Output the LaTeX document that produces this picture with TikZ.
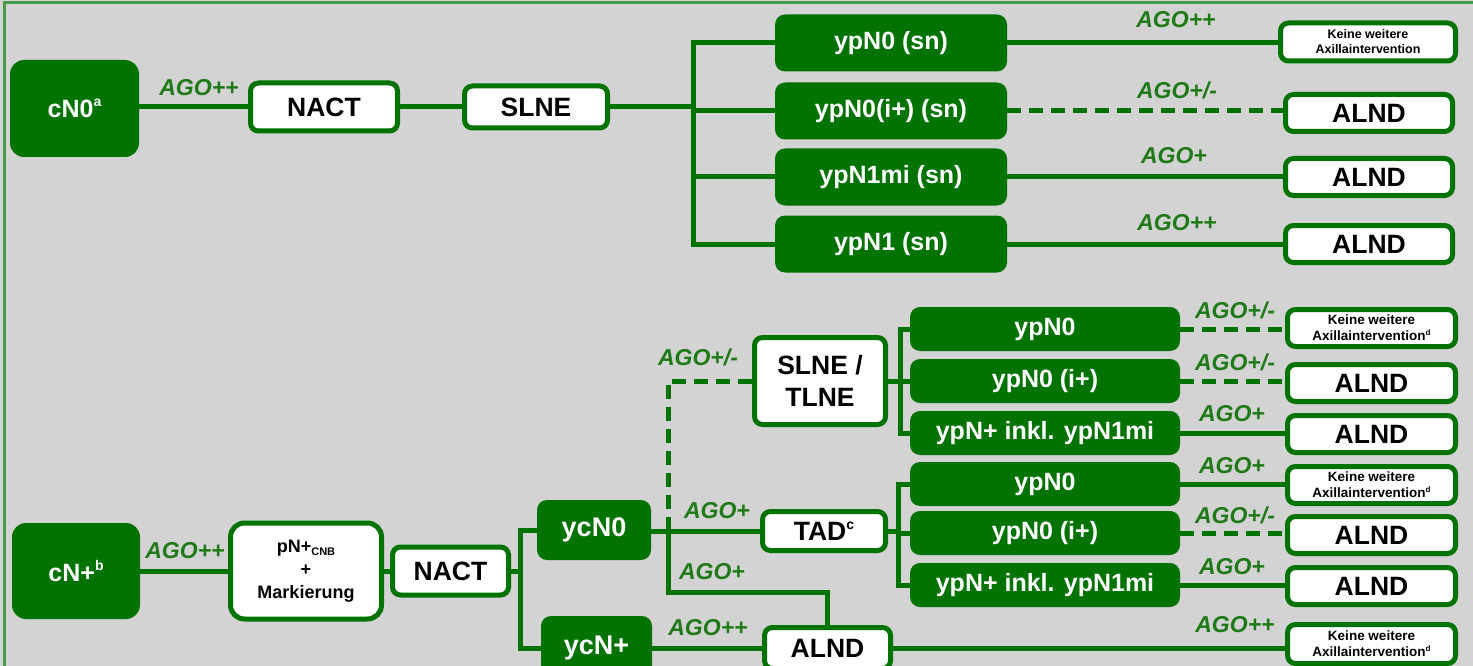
\documentclass[tikz,border=0pt]{standalone}
\usepackage{fontspec}
\setmainfont{Liberation Sans}
\definecolor{dkg}{RGB}{0,115,0}
\definecolor{lbg}{RGB}{30,122,22}
\definecolor{frameg}{RGB}{70,155,70}
\definecolor{bgg}{RGB}{211,211,211}
\newcommand{\sps}[1]{\raisebox{0.8ex}{\fontsize{14}{14}\selectfont #1}}
\newcommand{\sbs}[1]{\raisebox{-0.35ex}{\fontsize{11}{12}\selectfont #1}}
\newcommand{\spsm}[1]{\raisebox{0.7ex}{\fontsize{8}{8}\selectfont #1}}
\tikzset{
  gbox/.style={fill=dkg, rounded corners=10pt, text=white, inner sep=0pt,
    font=\fontsize{25}{29}\bfseries\selectfont},
  wbox/.style={fill=white, draw=dkg, line width=5pt, rounded corners=8pt, text=black,
    inner sep=0pt, font=\fontsize{26.5}{30}\bfseries\selectfont, align=center},
  endk/.style={wbox, minimum width=173pt, minimum height=37pt,
    font=\fontsize{13.5}{16}\bfseries\selectfont},
  enda/.style={wbox, minimum width=167pt, minimum height=37pt},
  conn/.style={draw=dkg, line width=5pt},
  dconn/.style={conn, dash pattern=on 14pt off 8pt},
  lab/.style={text=lbg, font=\fontsize{23}{26}\bfseries\itshape\selectfont, inner sep=0pt},
}
\begin{document}
\begin{tikzpicture}[x=1pt,y=-1pt]
\useasboundingbox (0,0) rectangle (1473,666);
\clip (0,0) rectangle (1473,666);
\fill[bgg] (0,0) rectangle (1473,666);
\draw[frameg, line width=3pt] (4,666) -- (4,3) -- (1473,3);

% ---------------- top part ----------------
\node[gbox, minimum width=129pt, minimum height=97pt, rounded corners=14pt] (cN0) at (74.5,108.5) {cN0\sps{a}};
\node[wbox, minimum width=147pt, minimum height=48pt] (nact1) at (324,107) {NACT};
\node[wbox, minimum width=143pt, minimum height=42pt] (slne1) at (536,107) {SLNE};
\coordinate (busA) at (693,107);

\node[gbox, minimum width=232pt, minimum height=57pt] (ypA) at (891,43) {ypN0 (sn)};
\node[gbox, minimum width=232pt, minimum height=57pt] (ypB) at (891,111) {ypN0(i+) (sn)};
\node[gbox, minimum width=232pt, minimum height=57pt] (ypC) at (891,177) {ypN1mi (sn)};
\node[gbox, minimum width=232pt, minimum height=57pt] (ypD) at (891,244) {ypN1 (sn)};

\node[endk, minimum width=175pt, minimum height=38pt, font=\fontsize{12.5}{15}\bfseries\selectfont] (eA) at (1368,42) {Keine weitere\\Axillaintervention};
\node[enda] (eB) at (1369,113) {ALND};
\node[enda] (eC) at (1369,177) {ALND};
\node[enda] (eD) at (1369,244) {ALND};

\draw[conn] (cN0.east |- nact1) -- (nact1.west);
\draw[conn] (nact1) -- (slne1);
\draw[conn] (slne1.east) -- (busA);
\draw[conn] (ypA.west) -| (busA) |- (ypD.west);
\draw[conn] (busA |- ypB) -- (ypB.west);
\draw[conn] (busA |- ypC) -- (ypC.west);
\draw[conn] (ypA.east) -- (ypA.east -| eA.west);
\draw[dconn] (ypB.east) -- (ypB.east -| eB.west);
\draw[conn] (ypC.east) -- (ypC.east -| eC.west);
\draw[conn] (ypD.east) -- (ypD.east -| eD.west);

\node[lab] (l1) at (199,88) {AGO++};
\node[lab] (l2) at (1176,20) {AGO++};
\node[lab] (l3) at (1177,90) {AGO+/-};
\node[lab] (l4) at (1174,156) {AGO+};
\node[lab] (l5) at (1177,223) {AGO++};

% ---------------- bottom part ----------------
\node[gbox, minimum width=128pt, minimum height=96pt, rounded corners=14pt] (cNp) at (76,571) {cN+\sps{b}};
\node[wbox, minimum width=151pt, minimum height=96pt, rounded corners=14pt,
  font=\fontsize{18}{23}\bfseries\selectfont] (pn) at (306,571) {pN+\sbs{CNB}\\+\\Markierung};
\node[wbox, minimum width=116pt, minimum height=48pt] (nact2) at (450.5,571) {NACT};
\coordinate (busB) at (520,571);
\node[gbox, minimum width=114pt, minimum height=60pt, font=\fontsize{27}{30}\bfseries\selectfont] (ycN0) at (594,530) {ycN0};
\node[gbox, minimum width=111pt, minimum height=64pt, font=\fontsize{27}{30}\bfseries\selectfont] (ycNp) at (596.5,648) {ycN+};

\node[wbox, minimum width=131pt, minimum height=87pt, font=\fontsize{26.5}{32}\bfseries\selectfont] (slt) at (820,381) {SLNE /\\TLNE};
\node[wbox, minimum width=123pt, minimum height=39pt] (tad) at (824,531) {TAD\sps{c}};
\node[wbox, minimum width=126pt, minimum height=41pt] (alnd3) at (827.5,648) {ALND};

\coordinate (j1) at (668,531);
\coordinate (busC) at (900,381);
\coordinate (busD) at (898,531);

\node[gbox, minimum width=270pt, minimum height=44pt] (g1) at (1045,329) {ypN0};
\node[gbox, minimum width=270pt, minimum height=44pt] (g2) at (1045,381) {ypN0 (i+)};
\node[gbox, minimum width=270pt, minimum height=44pt] (g3) at (1045,433) {ypN+ inkl. ypN1mi};
\node[gbox, minimum width=270pt, minimum height=44pt] (g4) at (1045,484) {ypN0};
\node[gbox, minimum width=270pt, minimum height=44pt] (g5) at (1045,533) {ypN0 (i+)};
\node[gbox, minimum width=270pt, minimum height=44pt] (g6) at (1045,585) {ypN+ inkl. ypN1mi};

\node[endk, minimum width=168pt] (k1) at (1371.5,328) {Keine weitere\\Axillaintervention\spsm{d}};
\node[enda, minimum width=168pt] (a2) at (1371.5,383) {ALND};
\node[enda, minimum width=168pt] (a3) at (1371.5,434) {ALND};
\node[endk, minimum width=168pt] (k4) at (1371.5,485) {Keine weitere\\Axillaintervention\spsm{d}};
\node[enda, minimum width=168pt] (a5) at (1371.5,535) {ALND};
\node[enda, minimum width=168pt] (a6) at (1371.5,586) {ALND};
\node[endk, minimum width=168pt, minimum height=39pt] (k7) at (1371.5,644) {Keine weitere\\Axillaintervention\spsm{d}};

\draw[conn] (cNp) -- (pn);
\draw[conn] (pn) -- (nact2);
\draw[conn] (nact2.east) -- (busB);
\draw[conn] (ycN0.west) -| (busB) |- (ycNp.west);
\draw[conn] (ycN0.east |- tad) -- (tad.west);
\draw[conn] (j1) |- (alnd3.north |- 0,592) -- (alnd3.north);
\draw[dconn] (j1) |- (slt.west);
\draw[conn] (ycNp.east) -- (ycNp.east -| alnd3.west);
\draw[conn] (alnd3.east) -- (alnd3.east -| k7.west);

\draw[conn] (slt.east) -- (busC);
\draw[conn] (g1.west) -| (busC) |- (g3.west);
\draw[conn] (busC |- g2) -- (g2.west);
\draw[conn] (tad.east) -- (busD);
\draw[conn] (g4.west) -| (busD) |- (g6.west);
\draw[conn] (busD |- g5) -- (g5.west);

\draw[dconn] (g1.east) -- (g1.east -| k1.west);
\draw[dconn] (g2.east) -- (g2.east -| a2.west);
\draw[conn] (g3.east) -- (g3.east -| a3.west);
\draw[conn] (g4.east) -- (g4.east -| k4.west);
\draw[dconn] (g5.east) -- (g5.east -| a5.west);
\draw[conn] (g6.east) -- (g6.east -| a6.west);

\node[lab] (m1) at (185,551) {AGO++};
\node[lab] (m2) at (698,357) {AGO+/-};
\node[lab] (m3) at (717,511) {AGO+};
\node[lab] (m4) at (712,572) {AGO+};
\node[lab] (m5) at (708,628) {AGO++};
\node[lab] (m6) at (1235,310) {AGO+/-};
\node[lab] (m7) at (1235,362) {AGO+/-};
\node[lab] (m8) at (1232,414) {AGO+};
\node[lab] (m9) at (1232,466) {AGO+};
\node[lab] (m10) at (1235,515) {AGO+/-};
\node[lab] (m11) at (1232,567) {AGO+};
\node[lab] (m12) at (1235,625) {AGO++};
\end{tikzpicture}
\end{document}
